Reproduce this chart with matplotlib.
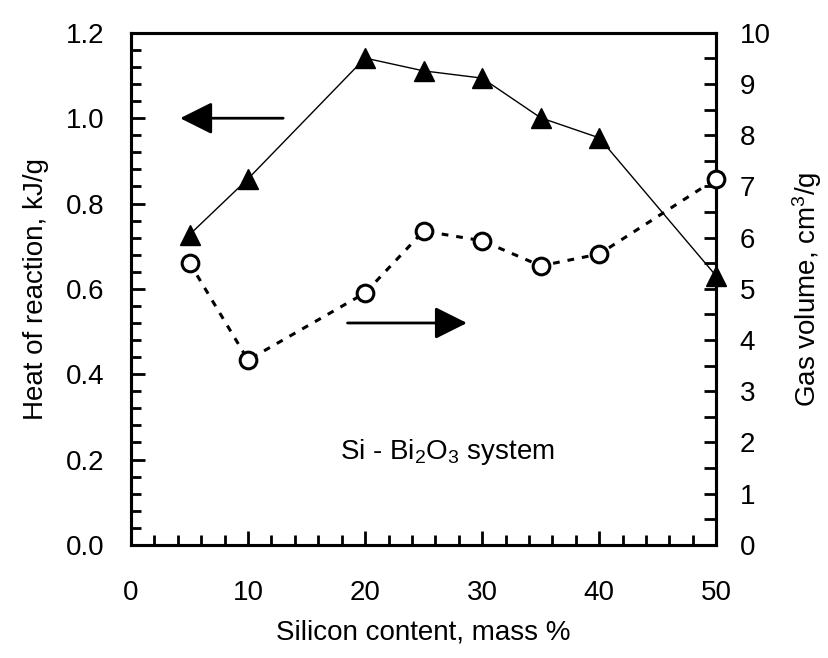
import numpy as np
import matplotlib.pyplot as plt
from matplotlib.ticker import MultipleLocator, FormatStrFormatter

plt.rcParams['font.family'] = ['Liberation Sans', 'DejaVu Sans']
plt.rcParams['mathtext.default'] = 'regular'

# data
si_content = [5, 10, 20, 25, 30, 35, 40, 50]
heat = [0.727, 0.858, 1.141, 1.111, 1.094, 1.001, 0.954, 0.630]
gas_volume = [5.51, 3.61, 4.92, 6.13, 5.94, 5.45, 5.68, 7.15]

fig = plt.figure(figsize=(8.29, 6.58), dpi=100)
ax = fig.add_axes([0.158, 0.172, 0.706, 0.778])
ax2 = ax.twinx()

# heat of reaction (left axis)
ax.plot(si_content, heat, '-', color='black', lw=1.0,
        marker='^', ms=15, mfc='black', mec='black', clip_on=False, zorder=3)

# gas volume (right axis)
ax2.plot(si_content, gas_volume, color='black', lw=2.2, ls=(0, (2.2, 2.6)),
         marker='o', ms=12, mfc='white', mec='black', mew=2.2, clip_on=False, zorder=3)

ax.set_xlim(0, 50)
ax.set_ylim(0, 1.2)
ax2.set_ylim(0, 10)

ax.xaxis.set_major_locator(MultipleLocator(10))
ax.xaxis.set_minor_locator(MultipleLocator(2))
ax.yaxis.set_major_locator(MultipleLocator(0.2))
ax.yaxis.set_minor_locator(MultipleLocator(0.04))
ax.yaxis.set_major_formatter(FormatStrFormatter('%.1f'))
ax2.yaxis.set_major_locator(MultipleLocator(1))
ax2.yaxis.set_minor_locator(MultipleLocator(0.5))

for a in (ax, ax2):
    for s in a.spines.values():
        s.set_linewidth(2.2)

fs = 20
ax.tick_params(axis='x', which='both', direction='in', top=False, width=2,
               labelsize=fs, pad=25)
ax.tick_params(axis='x', which='major', length=10)
ax.tick_params(axis='x', which='minor', length=7)
ax.tick_params(axis='y', which='both', direction='in', right=False, width=2,
               labelsize=fs, pad=19)
ax.tick_params(axis='y', which='major', length=10)
ax.tick_params(axis='y', which='minor', length=7)
ax2.tick_params(axis='y', which='both', direction='in', width=2, length=9,
                labelsize=fs, pad=17)

ax.set_xlabel('Silicon content, mass %', fontsize=fs, labelpad=10)
ax.set_ylabel('Heat of reaction, kJ/g', fontsize=fs, labelpad=12)
ax2.set_ylabel('Gas volume, cm$^3$/g', fontsize=fs, labelpad=14)

ax.text(27, 0.218, 'Si - Bi$_2$O$_3$ system', fontsize=fs, ha='center', va='center')

# arrows pointing at the axis each curve belongs to
arrow = dict(arrowstyle='-|>,head_length=0.9,head_width=0.45',
             color='black', lw=2, mutation_scale=22, shrinkA=0, shrinkB=0)
ax.annotate('', xy=(4.2, 1.0), xytext=(13.0, 1.0), arrowprops=arrow)
ax.annotate('', xy=(28.7, 0.52), xytext=(18.5, 0.52), arrowprops=arrow)

fig.savefig('out.png', dpi=100)
